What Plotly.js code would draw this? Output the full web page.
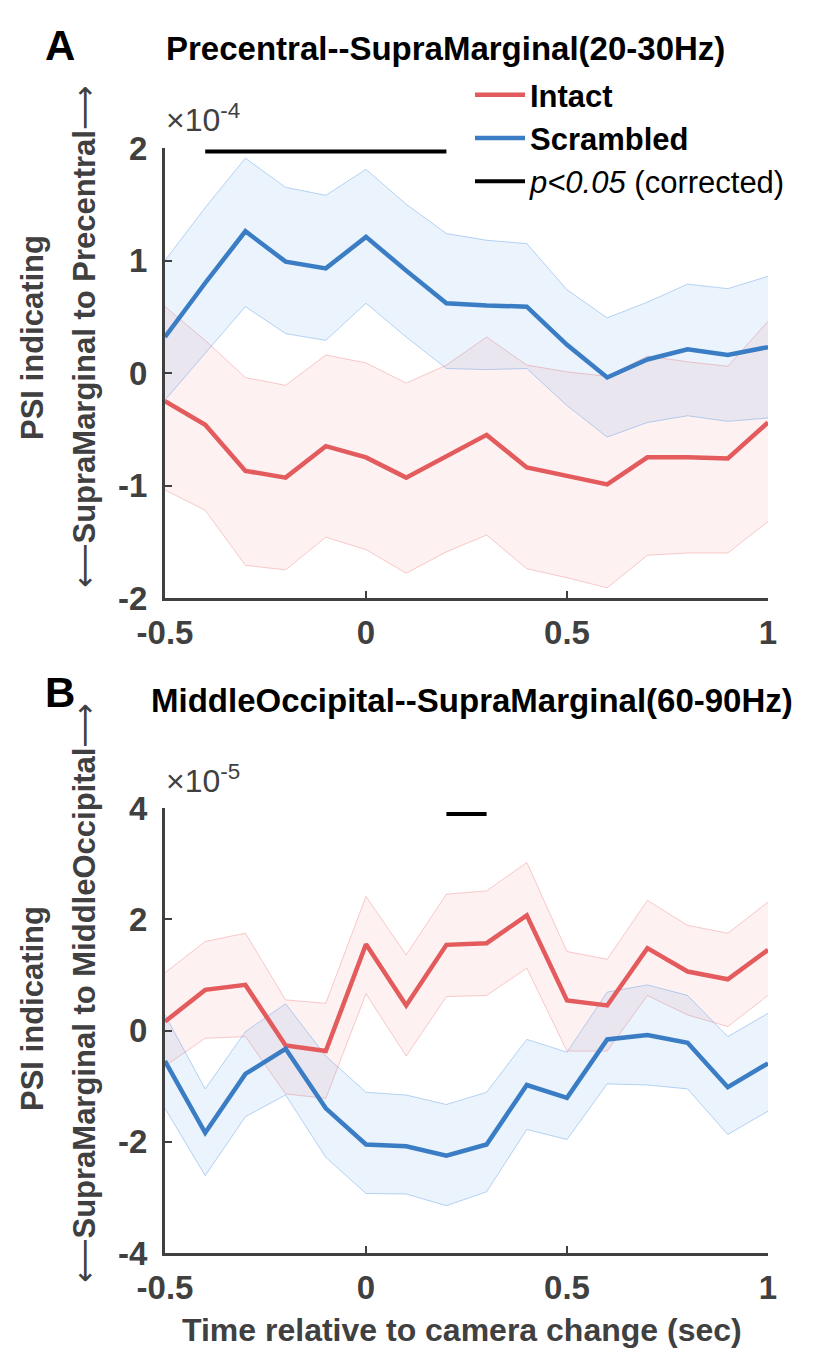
<!DOCTYPE html>
<html>
<head>
<meta charset="utf-8">
<script src="https://cdn.plot.ly/plotly-3.0.1.min.js"></script>
<style>html,body{margin:0;padding:0;background:#fff;}#chart{width:824px;height:1363px;}</style>
</head>
<body>
<div id="chart"></div>
<script>
// ---- shared time axis (sec) ----
const time = [-0.5,-0.4,-0.3,-0.2,-0.1,0,0.1,0.2,0.3,0.4,0.5,0.6,0.7,0.8,0.9,1.0];

// ---- Panel A: Precentral--SupraMarginal(20-30Hz), units x10^-4 ----
const A_intact_mean  = [-0.25,-0.46,-0.87,-0.93,-0.65,-0.75,-0.93,-0.74,-0.55,-0.84,-0.91,-0.99,-0.75,-0.75,-0.76,-0.44];
const A_intact_upper = [0.59,0.29,-0.04,-0.11,0.16,0.09,-0.09,0.07,0.32,0.07,0.01,-0.03,0.15,0.10,0.06,0.46];
const A_intact_lower = [-1.04,-1.22,-1.71,-1.75,-1.46,-1.57,-1.78,-1.59,-1.44,-1.74,-1.82,-1.91,-1.62,-1.60,-1.60,-1.32];
const A_scr_mean  = [0.32,0.80,1.26,0.99,0.93,1.21,0.91,0.62,0.60,0.59,0.25,-0.04,0.12,0.21,0.16,0.23];
const A_scr_upper = [1.00,1.47,1.91,1.65,1.58,1.81,1.50,1.24,1.18,1.15,0.74,0.49,0.63,0.79,0.75,0.86];
const A_scr_lower = [-0.24,0.18,0.59,0.35,0.29,0.62,0.32,0.04,0.03,0.04,-0.29,-0.57,-0.44,-0.38,-0.43,-0.40];
const A_sig_x = [-0.4, 0.2];
const A_sig_y = [1.97, 1.97];

// ---- Panel B: MiddleOccipital--SupraMarginal(60-90Hz), units x10^-5 ----
const B_intact_mean  = [0.16,0.73,0.82,-0.27,-0.37,1.55,0.45,1.54,1.57,2.07,0.54,0.45,1.48,1.06,0.92,1.45];
const B_intact_upper = [1.04,1.60,1.75,0.55,0.49,2.41,1.36,2.45,2.51,3.02,1.42,1.28,2.34,1.89,1.75,2.31];
const B_intact_lower = [-0.64,-0.14,-0.11,-1.14,-1.22,0.66,-0.46,0.61,0.63,1.12,-0.37,-0.37,0.63,0.28,0.07,0.63];
const B_scr_mean  = [-0.55,-1.84,-0.78,-0.33,-1.40,-2.05,-2.08,-2.25,-2.05,-0.98,-1.21,-0.16,-0.08,-0.22,-1.02,-0.59];
const B_scr_upper = [0.28,-1.05,-0.02,0.48,-0.46,-1.11,-1.16,-1.33,-1.11,-0.16,-0.39,0.69,0.82,0.63,-0.11,0.31];
const B_scr_lower = [-1.40,-2.61,-1.55,-1.16,-2.28,-2.93,-2.94,-3.15,-2.90,-1.78,-1.96,-0.96,-0.98,-1.05,-1.87,-1.45];
const B_sig_x = [0.2, 0.3];
const B_sig_y = [3.89, 3.89];

// ---- tick labels ----
const xTickVals = [-0.5, 0, 0.5, 1];
const xTickText = ['-0.5', '0', '0.5', '1'];
const yTickValsA = [-2, -1, 0, 1, 2];
const yTickTextA = ['-2', '-1', '0', '1', '2'];
const yTickValsB = [-4, -2, 0, 2, 4];
const yTickTextB = ['-4', '-2', '0', '2', '4'];

// ---- labels ----
const seriesNames = ['<b>Intact</b>', '<b>Scrambled</b>', '<i>p</i><i><0.05</i> (corrected)'];
const titleA = 'Precentral--SupraMarginal(20-30Hz)';
const titleB = 'MiddleOccipital--SupraMarginal(60-90Hz)';

// ---- styles ----
const RED = '#e35b5d', BLUE = '#3a7dc4';
const RED_FILL = 'rgba(240,95,95,0.09)', BLUE_FILL = 'rgba(60,135,225,0.10)';
const RED_EDGE = 'rgba(238,110,110,0.35)', BLUE_EDGE = 'rgba(80,150,230,0.40)';
const AX = '#404040';
const FONT = 'Liberation Sans, Arial, Helvetica, sans-serif';

function band(upper, lower, edge, fill, xa, ya) {
  return [
    {x: time, y: upper, xaxis: xa, yaxis: ya, type: 'scatter', mode: 'lines',
     line: {color: edge, width: 1}, showlegend: false, hoverinfo: 'skip'},
    {x: time, y: lower, xaxis: xa, yaxis: ya, type: 'scatter', mode: 'lines',
     line: {color: edge, width: 1}, fill: 'tonexty', fillcolor: fill, showlegend: false, hoverinfo: 'skip'}
  ];
}

const traces = [].concat(
  band(A_intact_upper, A_intact_lower, RED_EDGE, RED_FILL, 'x', 'y'),
  band(A_scr_upper, A_scr_lower, BLUE_EDGE, BLUE_FILL, 'x', 'y'),
  [
    {x: time, y: A_intact_mean, xaxis: 'x', yaxis: 'y', type: 'scatter', mode: 'lines',
     line: {color: RED, width: 4.5}, name: seriesNames[0], legendgroup: 'g1'},
    {x: time, y: A_scr_mean, xaxis: 'x', yaxis: 'y', type: 'scatter', mode: 'lines',
     line: {color: BLUE, width: 4.5}, name: seriesNames[1], legendgroup: 'g2'},
    {x: A_sig_x, y: A_sig_y, xaxis: 'x', yaxis: 'y', type: 'scatter', mode: 'lines',
     line: {color: '#000', width: 4}, name: seriesNames[2], legendgroup: 'g3'}
  ],
  band(B_intact_upper, B_intact_lower, RED_EDGE, RED_FILL, 'x2', 'y2'),
  band(B_scr_upper, B_scr_lower, BLUE_EDGE, BLUE_FILL, 'x2', 'y2'),
  [
    {x: time, y: B_intact_mean, xaxis: 'x2', yaxis: 'y2', type: 'scatter', mode: 'lines',
     line: {color: RED, width: 4.5}, showlegend: false},
    {x: time, y: B_scr_mean, xaxis: 'x2', yaxis: 'y2', type: 'scatter', mode: 'lines',
     line: {color: BLUE, width: 4.5}, showlegend: false},
    {x: B_sig_x, y: B_sig_y, xaxis: 'x2', yaxis: 'y2', type: 'scatter', mode: 'lines',
     line: {color: '#000', width: 4}, showlegend: false}
  ]
);

const W = 824, H = 1363;
const px = v => v / W;
const py = v => 1 - v / H;

function xaxis(anchor) {
  return {
    domain: [px(165), px(768)], anchor: anchor, range: [-0.5, 1],
    tickvals: xTickVals, ticktext: xTickText,
    ticks: 'inside', ticklen: 7, tickwidth: 2, tickcolor: AX,
    showline: true, linecolor: AX, linewidth: 3,
    showgrid: false, zeroline: false,
    tickfont: {family: FONT, size: 33, color: AX, weight: 'bold'},
    ticklabelstandoff: 3, fixedrange: true
  };
}
function yaxis(anchor, top, bottom, range, vals, text) {
  return {
    domain: [py(bottom), py(top)], anchor: anchor, range: range,
    tickvals: vals, ticktext: text,
    ticks: 'inside', ticklen: 7, tickwidth: 2, tickcolor: AX,
    showline: true, linecolor: AX, linewidth: 3,
    showgrid: false, zeroline: false,
    tickfont: {family: FONT, size: 33, color: AX, weight: 'bold'},
    ticklabelstandoff: 8, fixedrange: true
  };
}

const ann = (text, x, y, size, opts) => Object.assign({
  text: text, x: px(x), y: py(y), xref: 'paper', yref: 'paper',
  showarrow: false, xanchor: 'center', yanchor: 'middle',
  font: {family: FONT, size: size, color: '#000', weight: 'bold'}
}, opts || {});

const yTitleFont = {family: FONT, size: 31, color: AX, weight: 'bold'};
const expFont = {family: FONT, size: 32, color: AX};
const arrowL = '<span style="font-family:DejaVu Sans;font-weight:normal">⟵</span>';
const arrowR = '<span style="font-family:DejaVu Sans;font-weight:normal">⟶</span>';

const layout = {
  width: W, height: H, autosize: false,
  margin: {l: 0, r: 0, t: 0, b: 0, autoexpand: false},
  paper_bgcolor: '#fff', plot_bgcolor: 'rgba(0,0,0,0)',
  font: {family: FONT},
  xaxis: xaxis('y'),
  yaxis: yaxis('x', 148, 598, [-2, 2], yTickValsA, yTickTextA),
  xaxis2: xaxis('y2'),
  yaxis2: yaxis('x2', 808, 1253, [-4, 4], yTickValsB, yTickTextB),
  showlegend: true,
  legend: {
    x: px(470), y: py(68), xanchor: 'left', yanchor: 'top',
    bgcolor: 'rgba(0,0,0,0)', borderwidth: 0,
    font: {family: FONT, size: 31, color: '#000'},
    itemwidth: 50, tracegroupgap: 3, traceorder: 'normal'
  },
  annotations: [
    ann('A', 60, 45, 42),
    ann(titleA, 445, 48, 33),
    ann('B', 60, 692, 42),
    ann(titleB, 472, 700, 33),
    ann('×10<sup>-4</sup>', 164, 118, 32, {xanchor: 'left', font: expFont}),
    ann('×10<sup>-5</sup>', 164, 779, 32, {xanchor: 'left', font: expFont}),
    ann('PSI indicating', 32, 338, 31, {textangle: -90, font: yTitleFont}),
    ann(arrowL + 'SupraMarginal to Precentral' + arrowR, 84, 337, 31, {textangle: -90, font: yTitleFont}),
    ann('PSI indicating', 32, 1009, 31, {textangle: -90, font: yTitleFont}),
    ann(arrowL + 'SupraMarginal to MiddleOccipital' + arrowR, 84, 993, 31, {textangle: -90, font: yTitleFont}),
    ann('Time relative to camera change (sec)', 462, 1330, 32, {font: {family: FONT, size: 32, color: AX, weight: 'bold'}})
  ]
};

Plotly.newPlot('chart', traces, layout, {staticPlot: true, displayModeBar: false});
</script>
</body>
</html>
